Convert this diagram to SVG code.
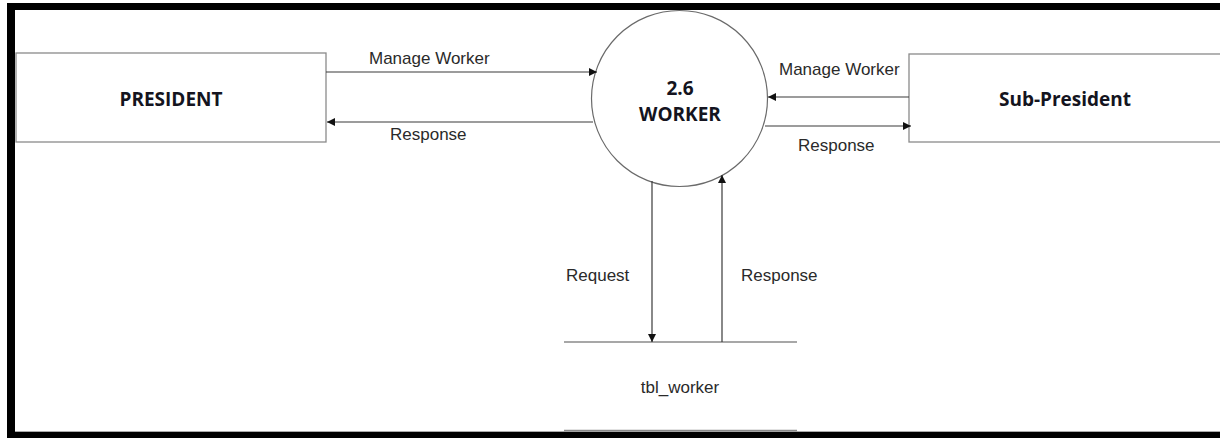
<svg xmlns="http://www.w3.org/2000/svg" width="1220" height="438" viewBox="0 0 1220 438">
<style>
.box{fill:#fff;stroke:#8a8a8a;stroke-width:1.3}
.proc{fill:#fff;stroke:#6a6a6a;stroke-width:1.2}
.flow{fill:none;stroke:#3a3a3a;stroke-width:1.2}
.store{stroke:#8a8a8a;stroke-width:1.6}
.title{font-family:"Open Sans","Liberation Sans",sans-serif;font-weight:bold;font-size:19px;fill:#141420;text-anchor:middle}
.lbl{font-family:"Liberation Sans",Arial,sans-serif;font-size:17px;fill:#2a2a2a}
</style>
<defs>
<marker id="arr" viewBox="0 0 10 10" refX="10" refY="5" markerWidth="8" markerHeight="8" markerUnits="userSpaceOnUse" orient="auto">
<path d="M0,0 L10,5 L0,10 z" fill="#111"/>
</marker>
</defs>
<rect x="0" y="0" width="1220" height="438" fill="#fff"/>
<path d="M7,3 H1220 V438 H7 Z M15,10 V432 H1220 V10 Z" fill="#000" fill-rule="evenodd"/>
<line x1="15" y1="431.5" x2="1220" y2="431.5" stroke="#aaa" stroke-width="1"/>

<g id="president">
<rect class="box" x="16" y="53" width="310" height="89"/>
<text class="title" x="171" y="106">PRESIDENT</text>
</g>

<g id="worker">
<circle class="proc" cx="679.5" cy="98.5" r="88"/>
<text class="title" x="680" y="95">2.6</text>
<text class="title" x="680" y="121">WORKER</text>
</g>

<g id="sub-president">
<rect class="box" x="909" y="54" width="312" height="88"/>
<text class="title" x="1065" y="106">Sub-President</text>
</g>

<g id="tbl_worker">
<line class="store" x1="564" y1="342" x2="797" y2="342"/>
<line class="store" x1="564" y1="430.5" x2="797" y2="430.5"/>
<text class="lbl" x="680" y="393" text-anchor="middle">tbl_worker</text>
</g>

<g id="connectors">
<line class="flow" x1="326" y1="72" x2="597" y2="72" marker-end="url(#arr)"/>
<text class="lbl" x="369" y="64">Manage Worker</text>
<line class="flow" x1="593" y1="122" x2="327" y2="122" marker-end="url(#arr)"/>
<text class="lbl" x="390" y="140">Response</text>
<line class="flow" x1="909" y1="97" x2="768" y2="97" marker-end="url(#arr)"/>
<text class="lbl" x="779" y="75">Manage Worker</text>
<line class="flow" x1="765" y1="126" x2="911" y2="126" marker-end="url(#arr)"/>
<text class="lbl" x="798" y="151">Response</text>
<line class="flow" x1="652" y1="181" x2="652" y2="342" marker-end="url(#arr)"/>
<text class="lbl" x="566" y="281">Request</text>
<line class="flow" x1="722" y1="342" x2="722" y2="175" marker-end="url(#arr)"/>
<text class="lbl" x="741" y="281">Response</text>
</g>
</svg>
